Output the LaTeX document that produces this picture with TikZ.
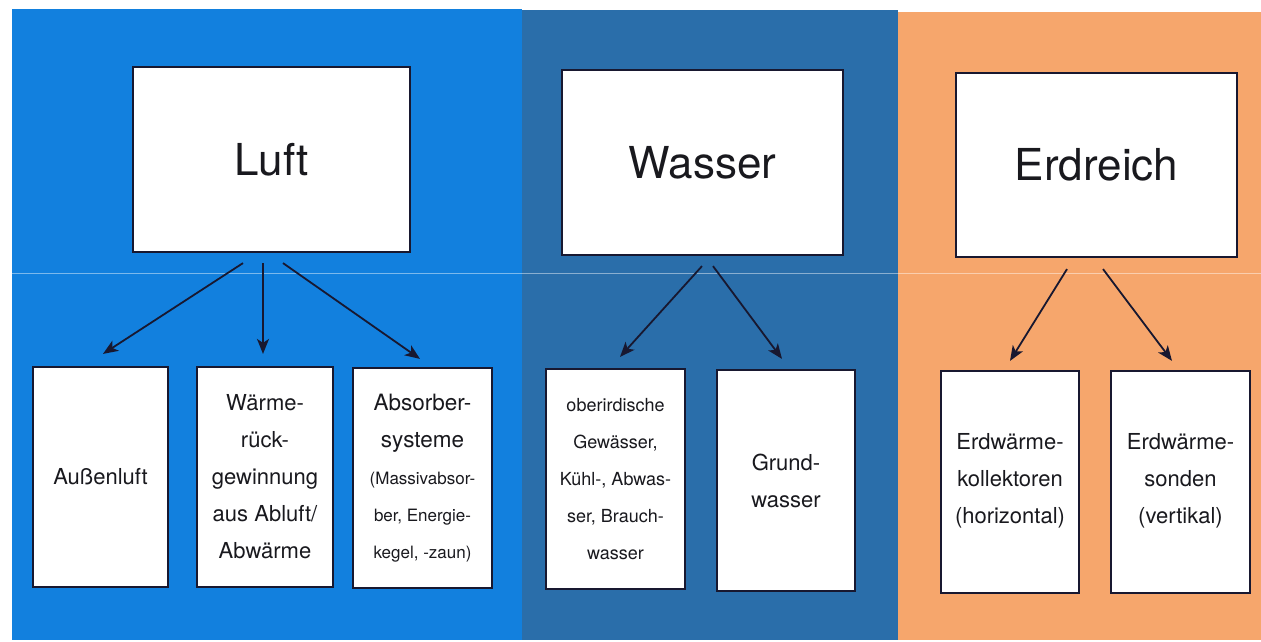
\documentclass[tikz,border=0pt]{standalone}
\usepackage{fontspec}
\setmainfont{TeX Gyre Heros}
\usetikzlibrary{arrows.meta,calc}
\definecolor{luftblue}{RGB}{18,128,222}
\definecolor{wasserblue}{RGB}{42,110,170}
\definecolor{erdorange}{RGB}{246,166,108}
\definecolor{edge}{RGB}{24,24,48}
\definecolor{txt}{RGB}{25,25,30}
\tikzset{
  bigbox/.style={draw=edge, line width=2.2pt, fill=white, text=txt, inner sep=0pt,
    minimum width=279pt, minimum height=185pt, font=\fontsize{44}{50}\selectfont},
  smallbox/.style={draw=edge, line width=2.2pt, fill=white, text=txt, inner sep=0pt,
    minimum width=138pt, minimum height=220pt, align=center},
  lg/.style={font=\fontsize{22}{37}\selectfont},
  er/.style={font=\fontsize{22}{37}\selectfont},
  arr/.style={draw=edge, line width=1.8pt, -{Stealth[length=15pt,width=12pt,inset=4pt]}}
}
\begin{document}
\begin{tikzpicture}[x=1pt,y=-1pt]
\useasboundingbox (0,0) rectangle (1261,642);
\fill[white] (0,0) rectangle (1261,642);
% panels
\fill[luftblue] (12,9) rectangle (522,640);
\fill[wasserblue] (522,10) rectangle (898,640);
\fill[erdorange] (898,12) rectangle (1261,640);
% faint scan line
\draw[white, opacity=0.45, line width=0.7pt] (12,273) -- (1261,273);

% top boxes
\node[bigbox, minimum width=277pt] (luft) at (271.5,159.5) {Luft};
\node[bigbox, minimum width=281pt] (wasser) at (702.5,162.5) {Wasser};
\node[bigbox, minimum width=281pt, minimum height=184pt] (erdreich) at (1096.5,165) {Erdreich};

% bottom boxes Luft
\node[smallbox, lg, minimum width=135pt] (aussen) at (100.5,477) {Au\ss enluft};
\node[smallbox, lg, minimum width=136pt] (waerme) at (265,477) {Wärme-\\rück-\\gewinnung\\aus Abluft/\\Abwärme};
\node[smallbox, font=\fontsize{22.5}{37}\selectfont, minimum width=139pt] (absorber) at (422.5,478)
  {Absorber-\\systeme\\{\fontsize{17}{37}\selectfont (Massivabsor-}\\{\fontsize{17}{37}\selectfont ber, Energie-}\\{\fontsize{17}{37}\selectfont kegel, -zaun)}};

% bottom boxes Wasser
\node[smallbox, font=\fontsize{18}{37}\selectfont, minimum width=139pt] (ober) at (615.5,479)
  {oberirdische\\Gewässer,\\Kühl-, Abwas-\\ser, Brauch-\\wasser};
\node[smallbox, lg, minimum width=138pt, minimum height=221pt] (grund) at (786,480.5) {Grund-\\wasser};

% bottom boxes Erdreich
\node[smallbox, minimum width=138pt, minimum height=222pt] (koll) at (1010,482) {};
\node[er, align=center, text=txt] (kolltxt) at (1010,481) {Erdwärme-\\kollektoren\\(horizontal)};
\node[smallbox, minimum width=139pt, minimum height=222pt] (sonden) at (1180.5,482) {};
\node[er, align=center, text=txt] (sondentxt) at (1180.5,481) {Erdwärme-\\sonden\\(vertikal)};

% arrows
\draw[arr] ($(luft.south)+(-28.5,10)$) -- ($(aussen.north)+(2.5,-12)$);
\draw[arr] ($(luft.south)+(-8.5,10)$) -- ($(waerme.north)+(-2,-12)$);
\draw[arr] ($(luft.south)+(11.5,10)$) -- ($(absorber.north)+(-2.5,-8)$);

\draw[arr] ($(wasser.south)+(-0.5,10)$) -- ($(ober.north)+(4.5,-11)$);
\draw[arr] ($(wasser.south)+(10.5,10)$) -- ($(grund.north)+(-4,-10)$);

\draw[arr] ($(erdreich.south)+(-29.5,11)$) -- ($(koll.north)+(0,-9)$);
\draw[arr] ($(erdreich.south)+(6.5,11)$) -- ($(sonden.north)+(-8.5,-9)$);
\end{tikzpicture}
\end{document}
